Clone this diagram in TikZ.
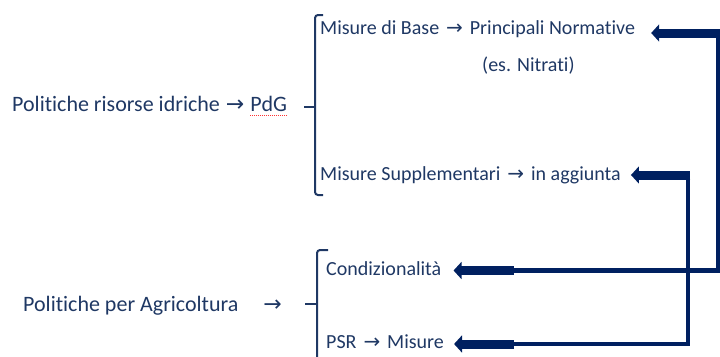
\documentclass[tikz,border=0pt]{standalone}
\usepackage{fontspec}
\setmainfont{Carlito}[Ligatures={NoCommon}]
\newfontfamily\arrfont{DejaVu Sans}
\usetikzlibrary{arrows.meta,calc}
\definecolor{txt}{HTML}{1F3864}
\definecolor{navy}{HTML}{002060}
\newcommand{\ra}{\hspace{0.05em}{\arrfont\char"2192}\hspace{0.05em}}
\newcommand{\rs}{\hspace{0.12em}{\arrfont\char"2192}\hspace{0.12em}}
\begin{document}
\begin{tikzpicture}[x=1pt,y=-1pt,
  lbl/.style={anchor=base west,inner sep=0pt,text=txt},
  big/.style={lbl,font=\fontsize{22}{26}\selectfont},
  small/.style={lbl,font=\fontsize{20}{23}\selectfont},
  bracestyle/.style={draw=txt,line width=2pt,rounded corners=3pt},
  thin/.style={draw=navy,line width=4.5pt},
  thick/.style={draw=navy,line width=9pt,-{Triangle[length=8pt,width=17pt]}}]
\useasboundingbox (0,0) rectangle (720,356);
% texts
\node[big] (idr) at (12,111) {Politiche risorse idriche \ra{} PdG};
\node[big] (agr) at (23,311) {Politiche per Agricoltura\hspace{25pt}{\arrfont\char"2192}};
\node[small] (base) at (320,34) {Misure di Base \rs{} Principali Normative};
\node[small] (nitr) at (482,71) {(es. Nitrati)};
\node[small] (supp) at (320,180) {Misure Supplementari \rs{} in aggiunta};
\node[small] (cond) at (326,275) {Condizionalità};
\node[small] (psr) at (326,348) {PSR \rs{} Misure};
% spell-check underline
\draw[red!80,line width=0.6pt,dash pattern=on 1pt off 1pt] ([yshift=-4pt]idr.base east) -- ++(-37,0);
% braces
\draw[bracestyle] (323,15) -- (315,15) -- (315,195) -- (323,195);
\draw[bracestyle,rounded corners=0pt] (315,107) -- (304,107);
\draw[bracestyle] (328,250) -- (317,250) -- (317,362);
\draw[bracestyle,rounded corners=0pt] (317,304) -- (305,304);
% connector coordinates
\coordinate (a1) at (718,270.5);
\coordinate (a2) at (718,33);
\coordinate (b1) at (688,344);
\coordinate (b2) at (688,175);
\coordinate (condtip) at ([xshift=12pt]cond.east |- a1);
\coordinate (psrtip) at ([xshift=10pt]psr.east |- b1);
\coordinate (basetip) at ([xshift=16pt]base.east |- a2);
\coordinate (supptip) at ([xshift=10pt]supp.east |- b2);
% connector 1: Condizionalita <-> Principali Normative
\draw[thin] ([xshift=55pt]condtip) -- (a1) -- (a2) -- ([xshift=-10pt]a2);
\draw[thick] ([xshift=2.25pt]a2) -- (basetip);
\draw[thick] ([xshift=60pt]condtip) -- (condtip);
% connector 2: PSR -> Misure <-> in aggiunta
\draw[thin] ([xshift=55pt]psrtip) -- (b1) -- (b2) -- ([xshift=-10pt]b2);
\draw[thick] ([xshift=2.25pt]b2) -- (supptip);
\draw[thick] ([xshift=60pt]psrtip) -- (psrtip);
\end{tikzpicture}
\end{document}
